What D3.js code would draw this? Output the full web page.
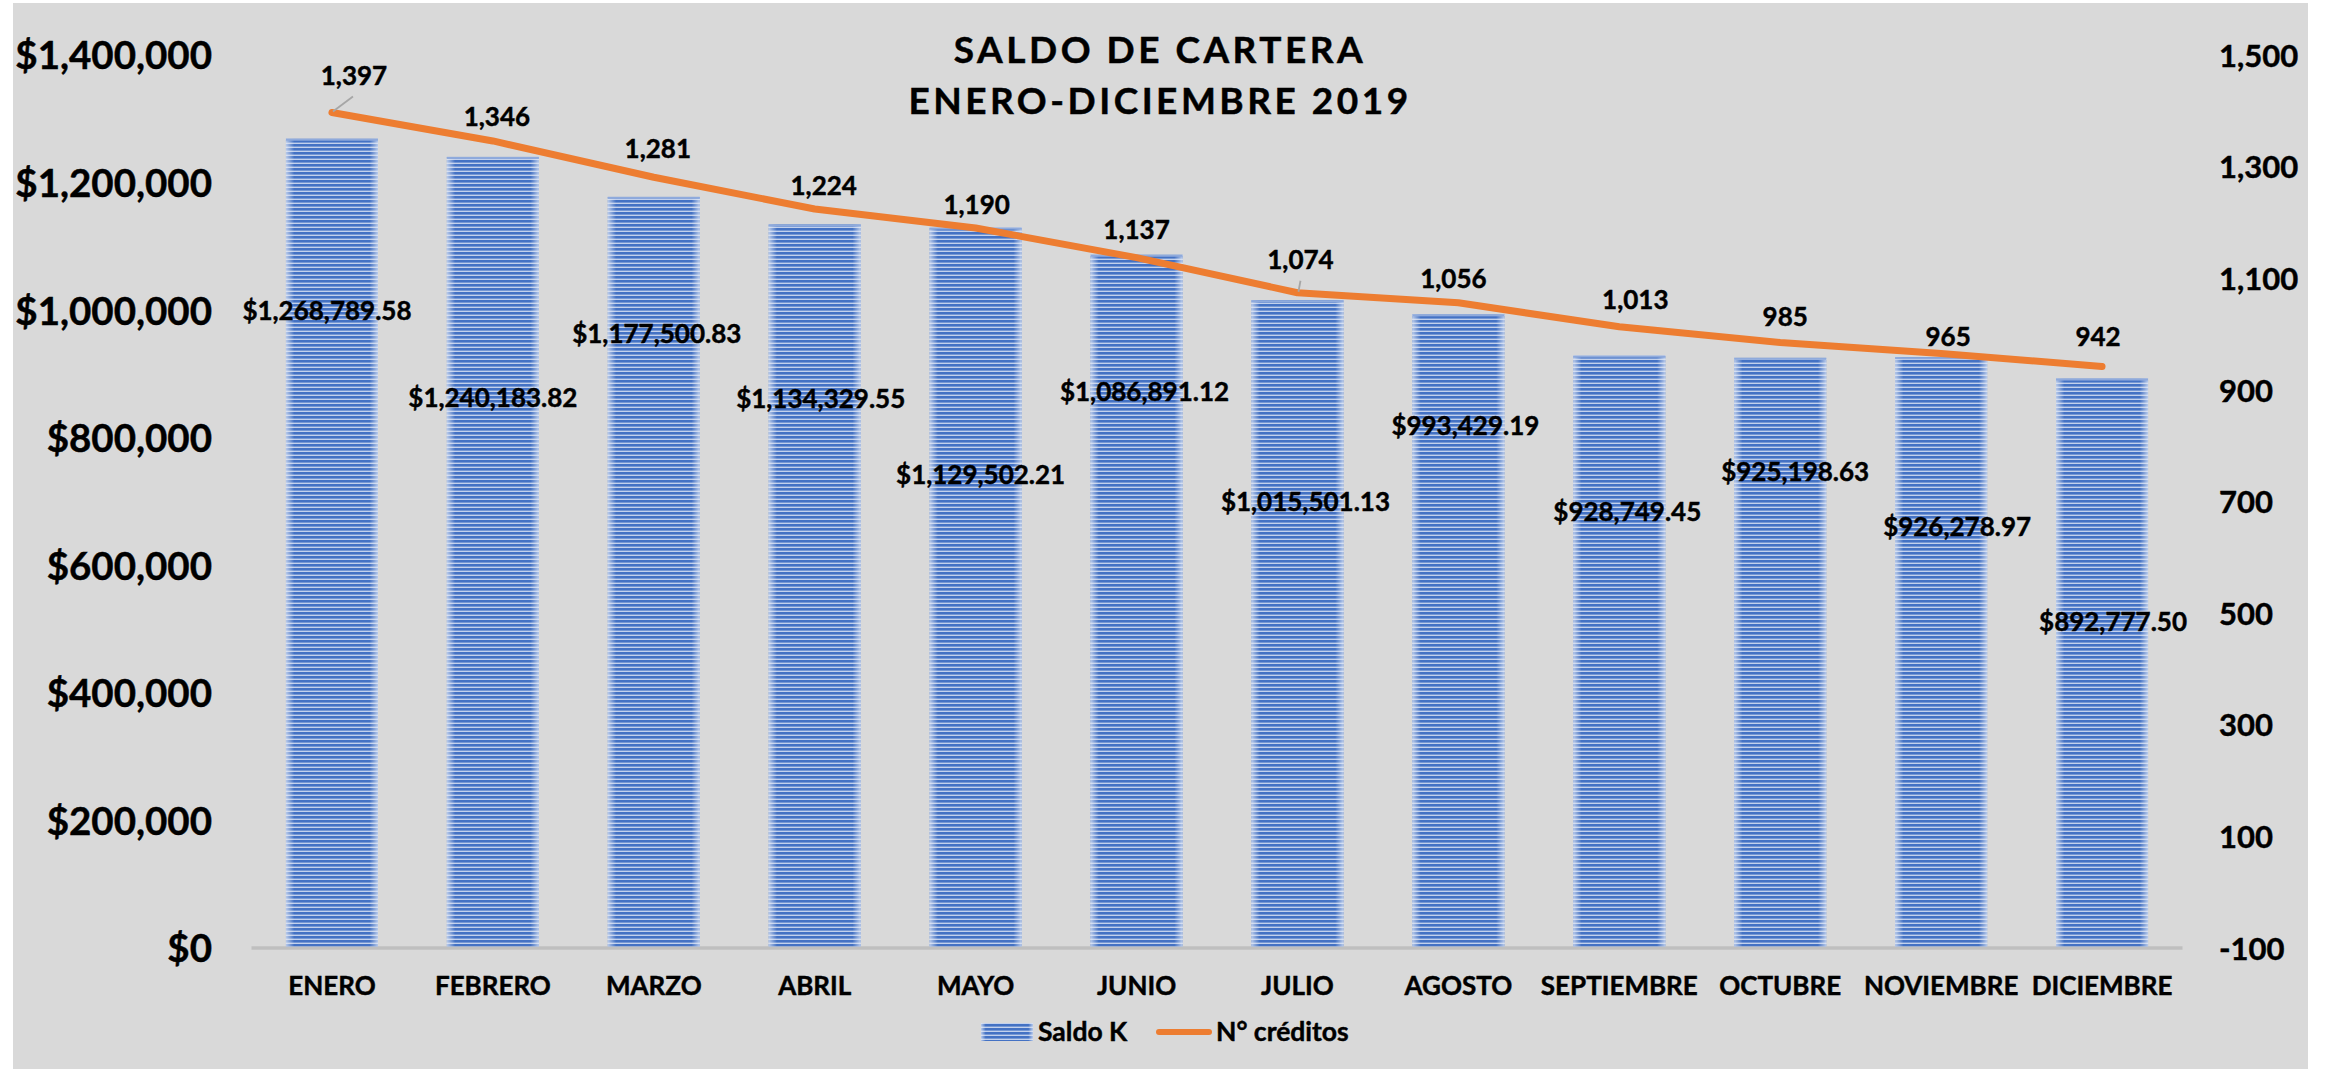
<!DOCTYPE html>
<html>
<head>
<meta charset="utf-8">
<script src="https://cdn.jsdelivr.net/npm/d3@7"></script>
<style>
  html, body { margin: 0; padding: 0; background: #ffffff; }
  svg { display: block; }
  text { font-family: Lato, "Open Sans", sans-serif; font-weight: 700; fill: #000; stroke: #000; stroke-width: 0.45px; paint-order: stroke; }
</style>
</head>
<body>
<svg id="chart" width="2328" height="1069"></svg>
<script>
// ---------- data ----------
const months = ["ENERO","FEBRERO","MARZO","ABRIL","MAYO","JUNIO","JULIO","AGOSTO","SEPTIEMBRE","OCTUBRE","NOVIEMBRE","DICIEMBRE"];
const saldoK = [1268789.58, 1240183.82, 1177500.83, 1134329.55, 1129502.21, 1086891.12, 1015501.13, 993429.19, 928749.45, 925198.63, 926278.97, 892777.50];
const creditos = [1397, 1346, 1281, 1224, 1190, 1137, 1074, 1056, 1013, 985, 965, 942];
const leftTicks = [0, 200000, 400000, 600000, 800000, 1000000, 1200000, 1400000];
const rightTicks = [-100, 100, 300, 500, 700, 900, 1100, 1300, 1500];
const titleLines = ["SALDO DE CARTERA", "ENERO-DICIEMBRE 2019"];
const seriesNames = ["Saldo K", "N\u00b0 cr\u00e9ditos"];
// where Excel's manually placed bar labels sit, in left-axis units
const barLabelAt = [1000000, 862300, 962600, 860700, 741500, 871700, 699200, 818400, 683500, 746300, 660000, 511100];

// ---------- layout ----------
const svg = d3.select("#chart");
const W = 2328, H = 1069;
const plot = { left: 251.5, right: 2182.5, top: 55, bottom: 948 };
const barNudge = [-5, 0, 3, 6, 5, 8, 8, 7, 8, 15, 16, 11];
const lineLabelNudge = [[22,-37],[4,-24],[4,-29],[9,-23],[1,-23],[0,-28],[3,-33],[-5,-24],[16,-27],[5,-26],[7,-17],[-4,-30]];

const loc = d3.formatLocale({ decimal: ".", thousands: ",", grouping: [3], currency: ["$", ""], minus: "-" });
const fInt = loc.format(",");
const fMoney = loc.format(",.2f");

const x = d3.scaleBand().domain(months).range([plot.left, plot.right]).paddingInner(0.428).paddingOuter(0.214);
const yL = d3.scaleLinear().domain([0, 1400000]).range([plot.bottom, plot.top]);
const yR = d3.scaleLinear().domain([-100, 1500]).range([plot.bottom, plot.top]);

// background
svg.append("rect").attr("x", 0).attr("y", 0).attr("width", W).attr("height", H).attr("fill", "#ffffff");
svg.append("rect").attr("x", 13).attr("y", 3).attr("width", 2295).attr("height", H - 3).attr("fill", "#d9d9d9");

// pattern for bars: horizontal stripes
const defs = svg.append("defs");
const pat = defs.append("pattern").attr("id", "stripes").attr("patternUnits", "userSpaceOnUse")
  .attr("width", 8).attr("height", 4).attr("y", plot.bottom);
pat.append("rect").attr("width", 8).attr("height", 4).attr("fill", "#c3d1ec");
pat.append("rect").attr("width", 8).attr("height", 2.6).attr("fill", "#4472c4");
const edge = defs.append("linearGradient").attr("id", "edgeFade").attr("x1", "0").attr("x2", "1").attr("y1", "0").attr("y2", "0");
edge.append("stop").attr("offset", "0").attr("stop-color", "#dfe7f6").attr("stop-opacity", 0.75);
edge.append("stop").attr("offset", "0.09").attr("stop-color", "#dfe7f6").attr("stop-opacity", 0);
edge.append("stop").attr("offset", "0.91").attr("stop-color", "#dfe7f6").attr("stop-opacity", 0);
edge.append("stop").attr("offset", "1").attr("stop-color", "#dfe7f6").attr("stop-opacity", 0.75);

// baseline
svg.append("line").attr("x1", plot.left).attr("x2", plot.right)
  .attr("y1", yL(0)).attr("y2", yL(0)).attr("stroke", "#bfbfbf").attr("stroke-width", 3.5);

// bars
const bars = svg.append("g");
bars.selectAll("rect.bar").data(saldoK).join("rect").attr("class", "bar")
  .attr("x", (d, i) => x(months[i])).attr("width", x.bandwidth())
  .attr("y", d => yL(d)).attr("height", d => yL(0) - yL(d) - 1.5)
  .attr("fill", "url(#stripes)");
bars.selectAll("rect.fade").data(saldoK).join("rect").attr("class", "fade")
  .attr("x", (d, i) => x(months[i])).attr("width", x.bandwidth())
  .attr("y", d => yL(d)).attr("height", d => yL(0) - yL(d) - 1.5)
  .attr("fill", "url(#edgeFade)");
bars.selectAll("rect.top").data(saldoK).join("rect").attr("class", "top")
  .attr("x", (d, i) => x(months[i])).attr("width", x.bandwidth())
  .attr("y", d => yL(d)).attr("height", 2)
  .attr("fill", "#8faadc");

// left axis
const axL = svg.append("g").attr("transform", `translate(212,0)`)
  .call(d3.axisLeft(yL).tickValues(leftTicks).tickSize(0).tickPadding(0)
    .tickFormat(d => "$" + fInt(d)));
axL.select(".domain").remove();
axL.selectAll("text").style("font-size", "38.5px").style("font-family", "Lato").style("font-weight", 700).attr("dy", "0.36em");

// right axis
const axR = svg.append("g").attr("transform", `translate(2219,0)`)
  .call(d3.axisRight(yR).tickValues(rightTicks).tickSize(0).tickPadding(0)
    .tickFormat(d => fInt(d)));
axR.select(".domain").remove();
axR.selectAll("text").style("font-size", "31px").style("font-family", "Lato").style("font-weight", 700).attr("dy", "0.36em");

// category axis
const axX = svg.append("g").attr("transform", `translate(0,${986})`)
  .call(d3.axisBottom(x).tickSize(0).tickPadding(0));
axX.select(".domain").remove();
axX.selectAll("text").style("font-size", "26px").style("font-family", "Lato").style("font-weight", 700).attr("dy", "0.36em");

// line
const line = d3.line().x((d, i) => x(months[i]) + x.bandwidth() / 2).y(d => yR(d));
svg.append("path").datum(creditos).attr("d", line)
  .attr("fill", "none").attr("stroke", "#ed7d31").attr("stroke-width", 7)
  .attr("stroke-linejoin", "round").attr("stroke-linecap", "round");

// leader lines (ENERO, JULIO)
[[0, 21, -16], [6, 3, -12]].forEach(([i, dx, dy]) => {
  const cx = x(months[i]) + x.bandwidth() / 2, cy = yR(creditos[i]);
  svg.append("line").attr("x1", cx + 1).attr("y1", cy - 1).attr("x2", cx + dx).attr("y2", cy + dy)
    .attr("stroke", "#a6a6a6").attr("stroke-width", 1.8);
});

// bar labels
svg.append("g").selectAll("text").data(saldoK).join("text")
  .attr("x", (d, i) => x(months[i]) + x.bandwidth() / 2 + barNudge[i])
  .attr("y", (d, i) => yL(barLabelAt[i]))
  .attr("dy", "0.36em").attr("text-anchor", "middle").style("font-size", "26px")
  .text(d => "$" + fMoney(d));

// line labels
svg.append("g").selectAll("text").data(creditos).join("text")
  .attr("x", (d, i) => x(months[i]) + x.bandwidth() / 2 + lineLabelNudge[i][0])
  .attr("y", (d, i) => yR(d) + lineLabelNudge[i][1])
  .attr("dy", "0.36em").attr("text-anchor", "middle").style("font-size", "26px")
  .text(d => fInt(d));

// title
svg.append("g").selectAll("text").data(titleLines).join("text")
  .attr("x", 1160).attr("y", (d, i) => 63 + i * 51)
  .attr("text-anchor", "middle").style("font-size", "37px").style("letter-spacing", "3.5px")
  .text(d => d);

// legend
const lg = svg.append("g");
lg.append("rect").attr("x", 981).attr("y", 1023).attr("width", 52).attr("height", 18).attr("fill", "url(#stripes)");
lg.append("rect").attr("x", 981).attr("y", 1023).attr("width", 52).attr("height", 18).attr("fill", "url(#edgeFade)");
lg.append("text").attr("x", 1038).attr("y", 1041).style("font-size", "26.5px").text(seriesNames[0]);
lg.append("line").attr("x1", 1159).attr("x2", 1209).attr("y1", 1032).attr("y2", 1032)
  .attr("stroke", "#ed7d31").attr("stroke-width", 6).attr("stroke-linecap", "round");
lg.append("text").attr("x", 1216).attr("y", 1041).style("font-size", "26.5px").text(seriesNames[1]);
</script>
</body>
</html>
